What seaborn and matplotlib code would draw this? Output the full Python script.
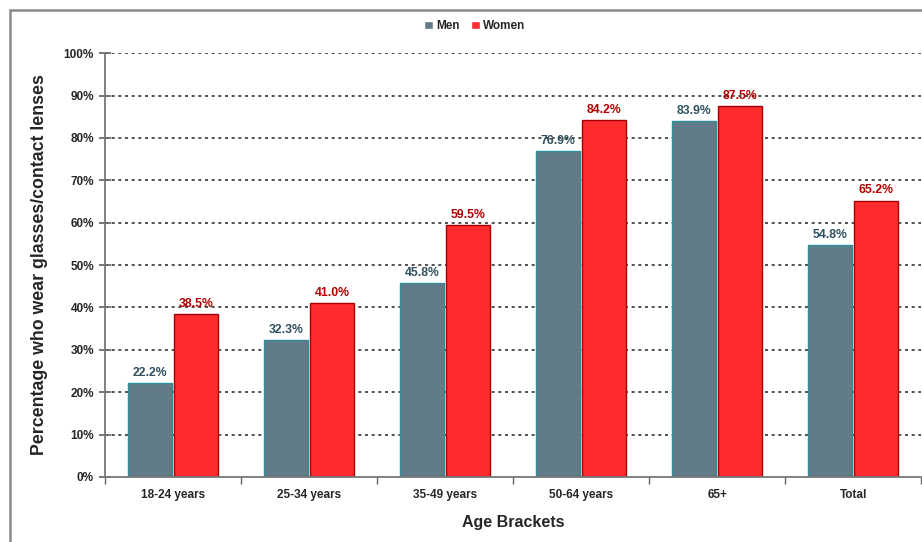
import matplotlib
matplotlib.use('Agg')
import matplotlib.pyplot as plt
import seaborn as sns
import pandas as pd
from matplotlib.patches import Rectangle
from matplotlib.ticker import FixedLocator

brackets = ['18-24 years', '25-34 years', '35-49 years', '50-64 years', '65+', 'Total']
men = [22.2, 32.3, 45.8, 76.9, 83.9, 54.8]
women = [38.5, 41.0, 59.5, 84.2, 87.5, 65.2]
y_ticks = [0, 10, 20, 30, 40, 50, 60, 70, 80, 90, 100]

df = pd.DataFrame({
    'bracket': brackets * 2,
    'sex': ['Men'] * len(men) + ['Women'] * len(women),
    'pct': men + women,
})

sns.set_theme(style='white')
plt.rcParams['font.family'] = ['Liberation Sans', 'DejaVu Sans']

fig = plt.figure(figsize=(9.22, 5.42), dpi=100)
ax = fig.add_axes([0.114, 0.12, 0.885, 0.782])

# gridlines behind the bars
for v in y_ticks[1:]:
    ax.axhline(v, color='#333333', lw=1.2, ls=(0, (1.8, 2.2)), zorder=0)

palette = {'Men': '#627b88', 'Women': '#ff2b2f'}
sns.barplot(data=df, x='bracket', y='pct', hue='sex', palette=palette,
            width=0.67, gap=0.04, saturation=1, ax=ax, zorder=2)

edges = {'Men': '#2a8f98', 'Women': '#a80000'}
label_cols = {'Men': '#2f5060', 'Women': '#b00000'}
for cont, sex in zip(ax.containers, ['Men', 'Women']):
    for bar in cont:
        bar.set_edgecolor(edges[sex])
        bar.set_linewidth(1.0)
    ax.bar_label(cont, labels=[f'{v:.1f}%' for v in cont.datavalues], padding=3,
                 fontsize=8.8, fontweight='bold', color=label_cols[sex])

ax.set_ylim(0, 100)
ax.set_xlim(-0.5, len(brackets) - 0.5)
ax.set_yticks(y_ticks)
ax.set_yticklabels([f'{v}%' for v in y_ticks], fontsize=8.5, fontweight='bold')
ax.set_xticklabels(brackets, fontsize=8.5, fontweight='bold')
ax.xaxis.set_minor_locator(FixedLocator([i + 0.5 for i in range(-1, len(brackets))]))
ax.tick_params(axis='x', which='major', length=0, pad=9)
ax.tick_params(axis='x', which='minor', length=5, direction='out', color='#666666', bottom=True)
ax.tick_params(axis='y', length=8, direction='inout', color='#666666', left=True, pad=4)

for s in ['top', 'right']:
    ax.spines[s].set_visible(False)
for s in ['left', 'bottom']:
    ax.spines[s].set_color('#777777')
    ax.spines[s].set_linewidth(1.3)

ax.set_xlabel('Age Brackets', fontsize=11.5, fontweight='bold', labelpad=10)
ax.set_ylabel('Percentage who wear glasses/contact lenses', fontsize=12.8,
              fontweight='bold', labelpad=11)

handles, labels = ax.get_legend_handles_labels()
ax.legend(handles, labels, loc='center', bbox_to_anchor=(0.515, 0.952),
          bbox_transform=fig.transFigure, ncol=2, frameon=False,
          prop={'size': 8.5, 'weight': 'bold'}, handlelength=0.7, handleheight=0.7,
          handletextpad=0.3, columnspacing=1.0)

# outer frame
fig.patches.append(Rectangle((0.011, -0.05), 1.05, 0.0315 + 1.0, transform=fig.transFigure,
                             fill=False, edgecolor='#8a8a8a', lw=1.8, figure=fig))

fig.savefig('out.png', dpi=100)
